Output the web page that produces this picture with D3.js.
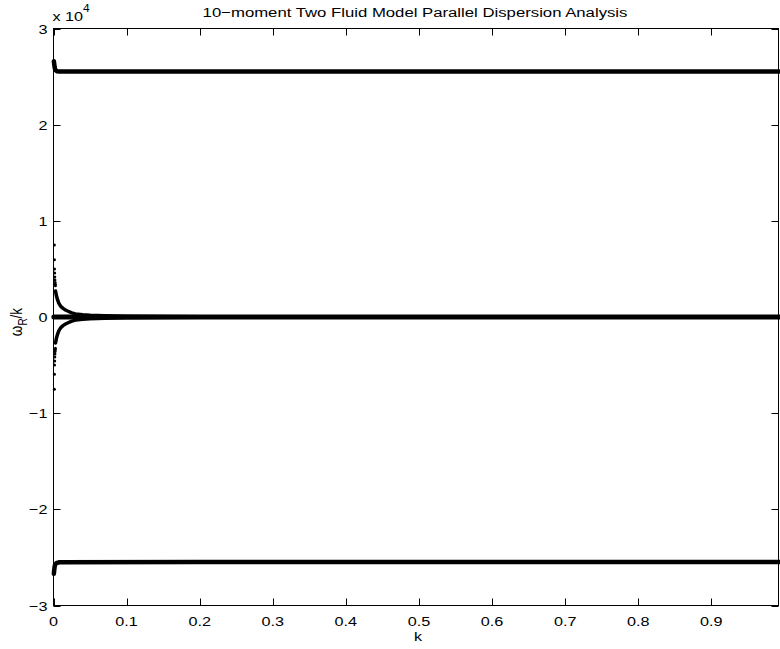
<!DOCTYPE html>
<html><head><meta charset="utf-8">
<script src="https://cdn.jsdelivr.net/npm/d3@7"></script>
<style>body{margin:0;background:#fff} text{font-family:"Liberation Sans",Arial,Helvetica,sans-serif;fill:#000}</style>
</head><body>
<svg id="c" width="780" height="649"></svg>
<script>
const titleText = "10\u2212moment Two Fluid Model Parallel Dispersion Analysis";
const xTicks = [0, 0.1, 0.2, 0.3, 0.4, 0.5, 0.6, 0.7, 0.8, 0.9];
const yTicks = [-3, -2, -1, 0, 1, 2, 3];
const yExponent = 4;

// Upper fast branch (omega_R/k)
const topK = [0.0005, 0.0010, 0.0015, 0.0020, 0.0030, 0.0050, 0.0080, 0.2, 0.5, 0.993];
const topV = [26600, 26300, 26000, 25800, 25650, 25560, 25520, 25520, 25520, 25520];
// Lower fast branch
const botK = [0.0005, 0.0010, 0.0015, 0.0020, 0.0030, 0.0050, 0.0080, 0.2, 0.5, 0.993];
const botV = [-26700, -26300, -26000, -25800, -25650, -25560, -25500, -25480, -25480, -25480];
// Zero branch
const zeroK = [0.0005, 0.2, 0.5, 0.993];
const zeroV = [0, 0, 0, 0];
// Upper slow branch: isolated markers at smallest k
const upDotK = [0.0012, 0.0013, 0.0014, 0.0016, 0.0018, 0.0020, 0.0022, 0.0024, 0.0026];
const upDotV = [7500, 5950, 5000, 4580, 4170, 3850, 3600, 3400, 3250];
// Upper slow branch: continuous part
const upK = [0.0028, 0.0040, 0.0055, 0.0072, 0.010, 0.013, 0.0164, 0.020, 0.025, 0.030, 0.040, 0.050, 0.070, 0.100, 0.150, 0.200, 0.270, 0.993];
const upV = [2700, 2200, 1800, 1450, 1100, 900, 730, 600, 430, 320, 230, 180, 130, 90, 55, 35, 20, 10];
// Lower slow branch: isolated markers
const loDotK = [0.0012, 0.0013, 0.0014, 0.0016, 0.0018, 0.0020, 0.0022, 0.0024, 0.0026];
const loDotV = [-7500, -5950, -5000, -4580, -4170, -3850, -3600, -3400, -3250];
// Lower slow branch: continuous part
const loK = [0.0028, 0.0040, 0.0055, 0.0072, 0.010, 0.013, 0.0164, 0.020, 0.025, 0.030, 0.040, 0.050, 0.070, 0.100, 0.150, 0.200, 0.270, 0.993];
const loV = [-2700, -2200, -1800, -1450, -1100, -900, -730, -600, -430, -320, -230, -180, -130, -90, -55, -35, -20, -10];

const L = 53.5, R = 778.5, T = 28.5, B = 605.5;
const svg = d3.select("#c");
const x = d3.scaleLinear().domain([0, 0.9919]).range([L, R]);
const y = d3.scaleLinear().domain([-3e4, 3e4]).range([B, T]);
const minus = s => s.replace("-", "\u2212");
const FS = 13.5, SX = 1.2;

// data
const line = d3.line().x(d => x(d[0])).y(d => y(d[1]));
const zip = (a, b) => a.map((v, i) => [v, b[i]]);
const g = svg.append("g");
[[zeroK, zeroV, 5], [topK, topV, 4.5], [botK, botV, 4.5], [upK, upV, 3.5], [loK, loV, 3.5]].forEach(([k, v, w]) => {
  g.append("path").attr("d", line(zip(k, v))).attr("fill", "none").attr("stroke", "#000")
    .attr("stroke-width", w).attr("stroke-linejoin", "round").attr("stroke-linecap", "round");
});
[[upDotK, upDotV], [loDotK, loDotV], [topK.slice(0, 2), topV.slice(0, 2)], [botK.slice(0, 2), botV.slice(0, 2)]].forEach(([k, v]) => {
  g.selectAll(null).data(zip(k, v)).enter().append("circle")
    .attr("cx", d => x(d[0])).attr("cy", d => y(d[1])).attr("r", 1.5).attr("fill", "#000");
});

// axes box + ticks (MATLAB style, inward)
const ax = svg.append("g").attr("stroke", "#000").attr("stroke-width", 1).attr("fill", "none");
ax.append("rect").attr("x", L).attr("y", T).attr("width", R - L).attr("height", B - T);
const tl = 7;
xTicks.forEach(t => {
  const px = Math.round(x(t)) + 0.5;
  ax.append("line").attr("x1", px).attr("x2", px).attr("y1", B).attr("y2", B - tl);
  ax.append("line").attr("x1", px).attr("x2", px).attr("y1", T).attr("y2", T + tl);
});
yTicks.forEach(t => {
  const py = Math.round(y(t * 1e4)) + 0.5;
  ax.append("line").attr("x1", L).attr("x2", L + tl).attr("y1", py).attr("y2", py);
  ax.append("line").attr("x1", R).attr("x2", R - tl).attr("y1", py).attr("y2", py);
});

// stretched text helper (reference text is horizontally widened)
function txt(px, py, anchor, rot, sx) {
  return svg.append("text")
    .attr("transform", `translate(${px},${py}) scale(${sx || SX},1)` + (rot ? ` rotate(${rot})` : ""))
    .attr("text-anchor", anchor).attr("font-size", FS);
}
xTicks.forEach(t => txt(x(t), B + 20.5, "middle").text(d3.format("")(t)));
yTicks.forEach(t => txt(L - 6, y(t * 1e4) + 5, "end").text(minus(String(t))));

// exponent label
const ex = txt(L - 1, 20.5, "start");
ex.append("tspan").text("x 10");
ex.append("tspan").attr("dy", -9).attr("font-size", 10).text(yExponent);

// title
txt(415, 17, "middle", 0, 1.24).text(titleText);
// x label
txt(418, 641, "middle").text("k");
// y label
const yl = txt(22, 322, "middle", -90);
yl.append("tspan").text("\u03c9");
yl.append("tspan").attr("dy", 4).attr("font-size", 10).text("R");
yl.append("tspan").attr("dy", -4).text("/k");
</script>
</body></html>
